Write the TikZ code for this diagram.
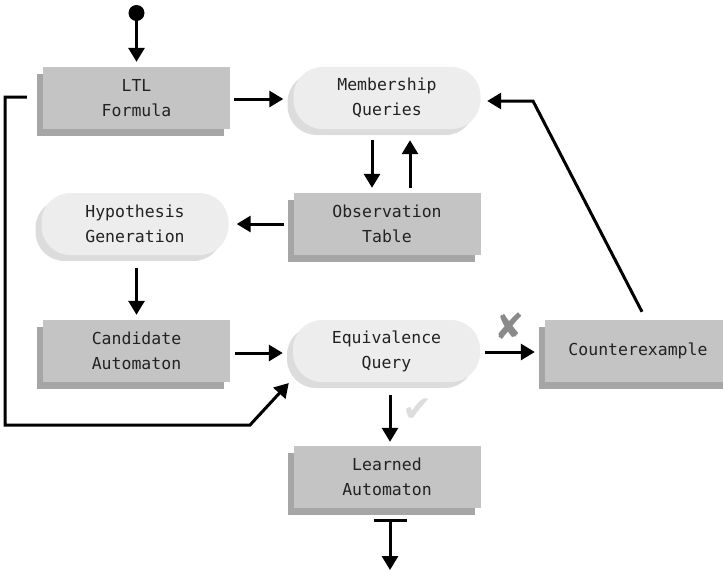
\documentclass[tikz,border=0pt]{standalone}
\usepackage{fontspec}
\setmonofont{DejaVu Sans Mono}
\newfontfamily\symfont{DejaVu Sans}
\usetikzlibrary{arrows.meta,shadows,calc}
\definecolor{boxfill}{HTML}{C4C4C4}
\definecolor{boxshade}{HTML}{A6A6A6}
\definecolor{pillfill}{HTML}{EDEDED}
\definecolor{pillshade}{HTML}{DCDCDC}
\definecolor{ink}{HTML}{222222}
\definecolor{failgray}{HTML}{8A8A8A}
\definecolor{passgray}{HTML}{DDDDDD}

\begin{document}
\begin{tikzpicture}[x=1pt,y=-1pt,
  lbl/.style={font=\ttfamily\fontsize{16.5}{25}\selectfont, text=ink, align=center, inner sep=0pt},
  boxnode/.style={lbl, rectangle, fill=boxfill, minimum width=187pt, minimum height=62pt,
    general shadow={fill=boxshade, shadow xshift=-6pt, shadow yshift=-7pt}},
  pill/.style={lbl, rectangle, rounded corners=29pt, fill=pillfill, minimum width=187pt, minimum height=62pt,
    general shadow={fill=pillshade, shadow xshift=-6pt, shadow yshift=-6pt}},
  flow/.style={line width=3pt, -{Triangle[length=14pt,width=16pt]}},
  verdict/.style={font=\symfont\fontsize{36}{36}\selectfont, inner sep=0pt},
]
\useasboundingbox (0,0) rectangle (723,571);

% process steps
\node[boxnode] (ltl)   at (136.5,98)  {LTL\\Formula};
\node[pill]    (mq)    at (387,98)    {Membership\\Queries};
\node[boxnode] (ot)    at (387,224)   {Observation\\Table};
\node[pill]    (hyp)   at (135,224)   {Hypothesis\\Generation};
\node[boxnode] (cand)  at (136.5,351) {Candidate\\Automaton};
\node[pill]    (eq)    at (386.5,351) {Equivalence\\Query};
\node[boxnode] (cex)   at (638,351)   {Counterexample};
\node[boxnode] (learn) at (387,477)   {Learned\\Automaton};

% start and end
\node[circle, fill=black, inner sep=0pt, minimum size=16pt] (start) at (136.5,13) {};
\coordinate (out) at (390,570);

% outcome marks
\node[verdict, text=failgray] (fail) at (510,326) {✘};
\node[verdict, text=passgray] (pass) at (418,410) {✔};

% bends
\coordinate (cexbend) at (533,101);
\coordinate (loopA) at (5,97);
\coordinate (loopB) at (5,425);
\coordinate (loopC) at (250,425);

% connectors
\draw[flow] (start) -- ($(ltl.north)+(0,-5)$);
\draw[flow] ($(ltl.east)+(4,1)$) -- ($(mq.west)+(-10,1)$);
\draw[flow] ($(mq.south)+(-15,11)$) -- ($(ot.north)+(-15,-5)$);
\draw[flow] ($(ot.north)+(23,-5)$) -- ($(mq.south)+(23,11)$);
\draw[flow] ($(cex.north)+(4,-8)$) -- (cexbend) -- ($(mq.east)+(6.5,3)$);
\draw[flow] ($(ot.west)+(-9,0)$) -- ($(hyp.east)+(8,0)$);
\draw[flow] ($(hyp.south -| cand.north)+(0,13)$) -- ($(cand.north)+(0,-5)$);
\draw[flow] ($(cand.east)+(5,2)$) -- ($(eq.west)+(-10,2)$);
\draw[flow] ($(eq.east)+(5,1)$) -- ($(cex.west)+(-9.5,1)$);
\draw[flow] ($(eq.south)+(3.5,13)$) -- ($(learn.north)+(3,-4)$);
\draw[line width=3pt, {Bar[width=33pt,line width=3pt]}-{Triangle[length=14pt,width=16pt]}]
  ($(learn.south)+(3,11)$) -- (out);
\draw[flow] ($(ltl.west)+(-16,-1)$) -- (loopA) -- (loopB) -- (loopC) -- ($(eq.west)+(-4,32)$);
\end{tikzpicture}
\end{document}
